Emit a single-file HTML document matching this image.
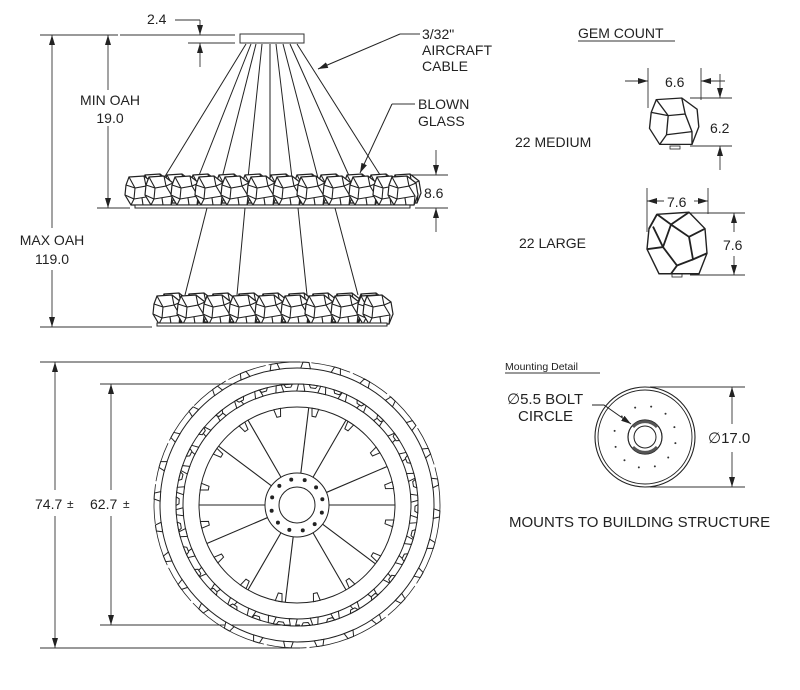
<!DOCTYPE html>
<html><head><meta charset="utf-8"><style>
html,body{margin:0;padding:0;background:#fff;width:800px;height:690px;overflow:hidden}
svg text{font-family:"Liberation Sans",sans-serif;fill:#222}
</style></head><body>
<svg id="s" width="800" height="690" viewBox="0 0 800 690" xmlns="http://www.w3.org/2000/svg">
<defs>
<marker id="a" viewBox="0 0 10 6" refX="10" refY="3" markerWidth="10" markerHeight="6" orient="auto-start-reverse" markerUnits="userSpaceOnUse"><path d="M0,0 L10,3 L0,6 Z" fill="#222"/></marker>
<g id="gem">
<path d="M-11,-14 L4,-15 L13,-8 L15,4 L11,14 L-9,14 L-15,4 L-14,-6 Z" fill="#fff" stroke="#222" stroke-width="1.2"/>
<path d="M-11,-14 L-5,-3 L6,-5 L4,-15 M6,-5 L12,5 L11,14 M-5,-3 L-6,8 L-9,14 M-6,8 L12,5 M-14,-6 L-5,-3 M-15,4 L-6,8 M13,-8 L6,-5 M2,7 L3,14" fill="none" stroke="#222" stroke-width="1.1"/>
</g>
</defs>
<g stroke="#333" stroke-width="0.9" fill="none">
<line x1="120" y1="35" x2="235" y2="35"/>
<line x1="40" y1="35" x2="118" y2="35"/>
<line x1="188" y1="43" x2="235" y2="43"/>
<line x1="175" y1="20" x2="200" y2="20"/>
<line x1="200" y1="20" x2="200" y2="35" marker-end="url(#a)"/>
<line x1="200" y1="67" x2="200" y2="43" marker-end="url(#a)"/>
<line x1="52" y1="35" x2="52" y2="228" marker-start="url(#a)"/>
<line x1="52" y1="270" x2="52" y2="327" marker-end="url(#a)"/>
<line x1="108" y1="35" x2="108" y2="90" marker-start="url(#a)"/>
<line x1="108" y1="126" x2="108" y2="208" marker-end="url(#a)"/>
<line x1="97" y1="208" x2="130" y2="208"/>
<line x1="40" y1="327" x2="152" y2="327"/>
<line x1="410" y1="175" x2="448" y2="175"/>
<line x1="415" y1="208" x2="448" y2="208"/>
<line x1="436" y1="150" x2="436" y2="175" marker-end="url(#a)"/>
<line x1="436" y1="232" x2="436" y2="208" marker-end="url(#a)"/>
<polyline points="420,34 400,34"/>
<polyline points="415,104 392,104"/>
</g>
<path d="M400,34 L318,69" stroke="#222" fill="none" marker-end="url(#a)"/>
<path d="M392,104 L360,173" stroke="#222" fill="none" marker-end="url(#a)"/>
<rect x="240" y="34" width="64" height="9" fill="#fff" stroke="#333"/>
<g stroke="#222" stroke-width="1" fill="none">
<line x1="246" y1="44" x2="164" y2="178"/>
<line x1="251" y1="44" x2="198" y2="178"/>
<line x1="256" y1="44" x2="222" y2="178"/>
<line x1="262" y1="44" x2="248" y2="178"/>
<line x1="270" y1="44" x2="270" y2="205"/>
<line x1="276" y1="44" x2="292" y2="178"/>
<line x1="283" y1="44" x2="318" y2="178"/>
<line x1="290" y1="44" x2="350" y2="178"/>
<line x1="297" y1="44" x2="382" y2="178"/>
<line x1="207" y1="208" x2="185" y2="295"/>
<line x1="245" y1="208" x2="237" y2="295"/>
<line x1="298" y1="208" x2="307" y2="295"/>
<line x1="335" y1="208" x2="358" y2="295"/>
</g>
<g id="g1"></g>
<rect x="135" y="205" width="275" height="3" fill="#fff" stroke="#222"/>
<g id="g2"></g>
<rect x="157" y="323" width="230" height="3" fill="#fff" stroke="#222"/>

<g font-size="14">
<text x="147" y="24">2.4</text>
<text x="110" y="105" text-anchor="middle">MIN OAH</text>
<text x="110" y="123" text-anchor="middle">19.0</text>
<text x="52" y="245" text-anchor="middle">MAX OAH</text>
<text x="52" y="264" text-anchor="middle">119.0</text>
<text x="424" y="198">8.6</text>
<text x="422" y="39">3/32"</text>
<text x="422" y="55">AIRCRAFT</text>
<text x="422" y="71">CABLE</text>
<text x="418" y="109">BLOWN</text>
<text x="418" y="126">GLASS</text>
</g>

<g stroke="#333" stroke-width="0.9" fill="none">
<line x1="40" y1="362" x2="300" y2="362"/>
<line x1="40" y1="648" x2="300" y2="648"/>
<line x1="100" y1="384" x2="300" y2="384"/>
<line x1="100" y1="625" x2="300" y2="625"/>
<line x1="55" y1="362" x2="55" y2="490" marker-start="url(#a)"/>
<line x1="55" y1="516" x2="55" y2="648" marker-end="url(#a)"/>
<line x1="111" y1="384" x2="111" y2="490" marker-start="url(#a)"/>
<line x1="111" y1="516" x2="111" y2="625" marker-end="url(#a)"/>
</g>
<rect x="33" y="492" width="44" height="22" fill="#fff"/>
<rect x="88" y="492" width="45" height="22" fill="#fff"/>
<g font-size="14"><text x="35" y="509">74.7</text><text x="90" y="509">62.7</text></g>
<g font-size="12"><text x="67" y="508">±</text><text x="123" y="508">±</text></g>
<g stroke="#222" fill="none" id="tv">
<circle cx="297" cy="505" r="143" stroke-width="0.8" stroke-dasharray="40 3"/>
<circle cx="297" cy="505" r="137" stroke-width="1"/>
<circle cx="297" cy="505" r="121" stroke-width="1"/>
<circle cx="297" cy="505" r="114" stroke-width="1"/>
<circle cx="297" cy="505" r="98" stroke-width="1"/>
<circle cx="297" cy="505" r="32" stroke-width="1"/>
<circle cx="297" cy="505" r="18" stroke-width="1"/>
</g>

<text x="578" y="38" font-size="14">GEM COUNT</text>
<line x1="578" y1="41" x2="675" y2="41" stroke="#333"/>
<text x="515" y="147" font-size="14">22 MEDIUM</text>
<text x="519" y="248" font-size="14">22 LARGE</text>
<g stroke="#333" stroke-width="0.9" fill="none">
<line x1="648" y1="68" x2="648" y2="108"/>
<line x1="701" y1="68" x2="701" y2="100"/>
<line x1="625" y1="81" x2="648" y2="81" marker-end="url(#a)"/>
<line x1="725" y1="81" x2="701" y2="81" marker-end="url(#a)"/>
<line x1="690" y1="98" x2="732" y2="98"/>
<line x1="690" y1="146" x2="732" y2="146"/>
<line x1="720" y1="74" x2="720" y2="98" marker-end="url(#a)"/>
<line x1="720" y1="170" x2="720" y2="146" marker-end="url(#a)"/>
<line x1="647" y1="188" x2="647" y2="232"/>
<line x1="708" y1="188" x2="708" y2="214"/>
<line x1="664" y1="201" x2="647" y2="201" marker-end="url(#a)"/>
<line x1="694" y1="201" x2="708" y2="201" marker-end="url(#a)"/>
<line x1="690" y1="213" x2="745" y2="213"/>
<line x1="690" y1="275" x2="745" y2="275"/>
<line x1="734" y1="232" x2="734" y2="213" marker-end="url(#a)"/>
<line x1="734" y1="256" x2="734" y2="275" marker-end="url(#a)"/>
</g>
<g font-size="14"><text x="665" y="87">6.6</text><text x="710" y="133">6.2</text>
<text x="667" y="207">7.6</text><text x="723" y="250">7.6</text></g>
<g transform="translate(675,122) scale(1.7,1.6)">
<path d="M-11,-14 L4,-15 L13,-8 L14,3 L10,14 L-9,14 L-15,4 L-14,-6 Z" fill="#fff" stroke="#222" stroke-width="0.8"/>
<path d="M-11,-14 L-4,-4 L6,-5 L4,-15 M6,-5 L10,6 L10,14 M-4,-4 L-5,8 L-9,14 M-5,8 L10,6 M-14,-6 L-4,-4" fill="none" stroke="#222" stroke-width="0.8"/>
</g>
<rect x="670" y="146" width="10" height="3" fill="none" stroke="#222" stroke-width="0.8"/>
<g transform="translate(677,243) scale(2.0,2.05)">
<path d="M-10,-14 L6,-15 L14,-7 L15,5 L11,15 L-9,15 L-15,3 L-14,-7 Z" fill="#fff" stroke="#222" stroke-width="0.7"/>
<path d="M-10,-14 L-14,-7 M-10,-14 L-3,-9 L6,-15 M-3,-9 L-7,2 M-3,-9 L6,-3 L14,-7 M6,-3 L8,8 L15,5 M8,8 L0,11 L-7,2 M-7,2 L-15,3 M0,11 L-3,15 M-7,2 L-12,-8" fill="none" stroke="#222" stroke-width="0.9"/>
</g>
<rect x="672" y="274" width="10" height="3" fill="none" stroke="#222" stroke-width="0.8"/>

<text x="505" y="370" font-size="10.5">Mounting  Detail</text>
<line x1="505" y1="373" x2="600" y2="373" stroke="#333"/>
<text x="507" y="404" font-size="15">∅5.5 BOLT</text>
<text x="518" y="421" font-size="15">CIRCLE</text>
<path d="M592,405 L604,405 L631,424" stroke="#222" fill="none" marker-end="url(#a)"/>
<circle cx="645" cy="437" r="50" fill="none" stroke="#222" stroke-width="1.1"/>
<circle cx="645" cy="437" r="47" fill="none" stroke="#222" stroke-width="0.9"/>
<circle cx="645" cy="437" r="17" fill="none" stroke="#222" stroke-width="1.2"/>
<circle cx="645" cy="437" r="11" fill="none" stroke="#222" stroke-width="1"/>
<path d="M633,427 A16,16 0 0 1 657,427 M633,447 A16,16 0 0 0 657,447" stroke="#555" stroke-width="3" fill="none"/>
<g id="dots" fill="#333"></g>
<g stroke="#333" stroke-width="0.9">
<line x1="650" y1="387" x2="745" y2="387"/>
<line x1="650" y1="487" x2="745" y2="487"/>
<line x1="732" y1="424" x2="732" y2="387" marker-end="url(#a)"/>
<line x1="732" y1="452" x2="732" y2="487" marker-end="url(#a)"/>
</g>
<text x="708" y="443" font-size="15">∅17.0</text>
<text x="509" y="527" font-size="15">MOUNTS TO BUILDING STRUCTURE</text>
</svg>
<script>
var NS="http://www.w3.org/2000/svg";
function gem(p,x,y,s){var u=document.createElementNS(NS,"use");u.setAttribute("href","#gem");u.setAttribute("transform","translate("+x+","+y+") scale("+s+")");p.appendChild(u);}
var g1=document.getElementById("g1"),g2=document.getElementById("g2");
[148,170,196,222,248,274,300,324,350,374,398].forEach(function(x){gem(g1,x+8,189,1.0);});
[140,160,186,210,236,262,288,312,338,364,388,403].forEach(function(x){gem(g1,x,191,1.0);});
[165,190,214,240,264,290,314,338,362].forEach(function(x){gem(g2,x+10,308,1.0);});
[168,192,218,244,270,296,320,346,372,378].forEach(function(x){gem(g2,x,310,1.0);});
var tv=document.getElementById("tv"),cx=297,cy=505;
function ln(x1,y1,x2,y2,w){var l=document.createElementNS(NS,"line");l.setAttribute("x1",x1);l.setAttribute("y1",y1);l.setAttribute("x2",x2);l.setAttribute("y2",y2);l.setAttribute("stroke-width",w||1);tv.appendChild(l);}
function bumps(r1,r2,n,off){for(var i=0;i<n;i++){var a=(i/n+off)*2*Math.PI,d=0.035;
var p=[[r1,a-d],[r2,a-d*0.6],[r2,a+d*0.6],[r1,a+d]].map(function(q){return (cx+q[0]*Math.cos(q[1])).toFixed(1)+","+(cy+q[0]*Math.sin(q[1])).toFixed(1)}).join(" ");
var pg=document.createElementNS(NS,"polygon");pg.setAttribute("points",p);pg.setAttribute("fill","#fff");pg.setAttribute("stroke-width","1");tv.appendChild(pg);}}
bumps(137,143,28,0.01);bumps(114,121,34,0.02);bumps(121,118,30,0.005);bumps(98,90,16,0.03);
for(var i=0;i<12;i++){var a=i*Math.PI/6+(i%2?0.12:0);ln(cx+32*Math.cos(a),cy+32*Math.sin(a),cx+98*Math.cos(a),cy+98*Math.sin(a),1.1);}
var dg=document.getElementById("dots");
for(var i=0;i<12;i++){var a=i*Math.PI/6+0.2;var c=document.createElementNS(NS,"circle");c.setAttribute("cx",645+31*Math.cos(a));c.setAttribute("cy",437+31*Math.sin(a));c.setAttribute("r",1);dg.appendChild(c);}
for(var i=0;i<12;i++){var a=i*Math.PI/6+0.3;var c=document.createElementNS(NS,"circle");c.setAttribute("cx",cx+26*Math.cos(a));c.setAttribute("cy",cy+26*Math.sin(a));c.setAttribute("r",1.5);c.setAttribute("fill","#222");tv.appendChild(c);}
</script>
</body></html>
